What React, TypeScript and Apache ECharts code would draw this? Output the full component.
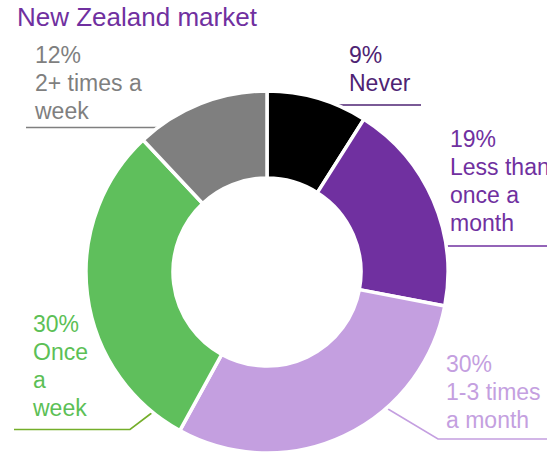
import React, { useEffect, useRef } from 'react';
import * as echarts from 'echarts';

const title = 'New Zealand market';
const categories = ['Never', 'Less than once a month', '1-3 times a month', 'Once a week', '2+ times a week'];
const labelText = ['Never', 'Less than\nonce a\nmonth', '1-3 times\na month', 'Once\na\nweek', '2+ times a\nweek'];
const percents = [9, 19, 30, 30, 12];

const sliceColors = ['#000000', '#7030A0', '#C49FE0', '#5FBF5C', '#7F7F7F'];
const labelColors = ['#4E2373', '#7030A0', '#C49FE0', '#5CBF56', '#7F7F7F'];
const lineColors = ['#4E2373', '#7030A0', '#C49FE0', '#74AE2A', '#7F7F7F'];

// label placement (layout only)
const labelPlacement = [
  { x: 349, y: 41, line: [[320, 105], [320, 105], [421, 105]] },
  { x: 450, y: 125, line: [[447, 246], [447, 246], [547, 246]] },
  { x: 446, y: 350, line: [[388, 409], [438, 439], [547, 439]] },
  { x: 33, y: 310, line: [[153, 412], [130, 429.5], [14, 429.5]] },
  { x: 35, y: 41, line: [[157, 127.5], [157, 127.5], [26, 127.5]] },
];

export default function App() {
  const ref = useRef<HTMLDivElement>(null);
  useEffect(() => {
    if (!ref.current) return;
    const chart = echarts.init(ref.current, undefined, { renderer: 'svg' });
    const data = categories.map((name, i) => ({
      name,
      value: percents[i],
      itemStyle: { color: sliceColors[i] },
      label: { color: labelColors[i] },
      labelLine: { lineStyle: { color: lineColors[i], width: 1.6 } },
    }));
    chart.setOption({
      animation: false,
      backgroundColor: '#ffffff',
      title: {
        text: title,
        left: 17,
        top: 4,
        padding: 0,
        textStyle: {
          color: '#7030A0',
          fontFamily: 'Liberation Sans, Arial, sans-serif',
          fontSize: 26,
          fontWeight: 'normal',
          lineHeight: 26,
        },
      },
      series: [
        {
          type: 'pie',
          center: [267, 272],
          radius: [94, 181],
          startAngle: 90,
          clockwise: true,
          avoidLabelOverlap: false,
          itemStyle: { borderColor: '#ffffff', borderWidth: 3.5 },
          label: {
            show: true,
            position: 'outside',
            fontFamily: 'Liberation Sans, Arial, sans-serif',
            fontSize: 23,
            lineHeight: 28,
            width: 220,
            overflow: 'none',
            formatter: (p: any) => `${percents[p.dataIndex]}%\n${labelText[p.dataIndex]}`,
          },
          labelLine: { show: true, smooth: false, length: 10, length2: 10 },
          labelLayout: (params: any) => {
            const pl = labelPlacement[params.dataIndex];
            return {
              x: pl.x,
              y: pl.y,
              align: 'left',
              verticalAlign: 'top',
              labelLinePoints: pl.line,
            };
          },
          emphasis: { disabled: true },
          data,
        },
      ],
    });
    return () => chart.dispose();
  }, []);
  return (
    <div
      ref={ref}
      style={{ position: 'fixed', left: 0, top: 0, width: 547, height: 453 }}
    />
  );
}
